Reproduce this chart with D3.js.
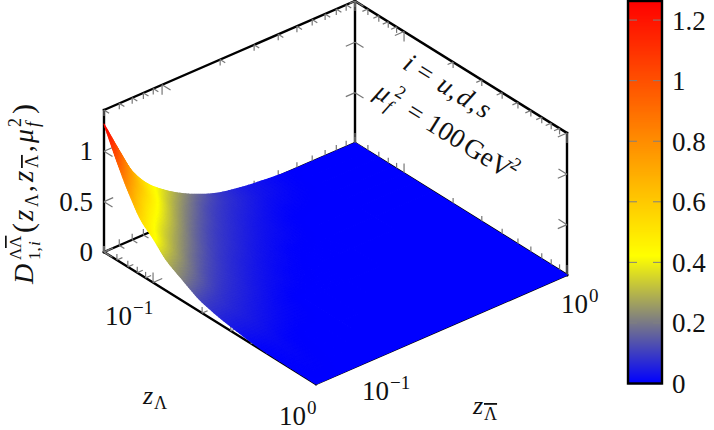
<!DOCTYPE html>
<html><head><meta charset="utf-8">
<script src="https://cdnjs.cloudflare.com/ajax/libs/d3/7.8.5/d3.min.js"></script>
<style>html,body{margin:0;padding:0;background:#fff}svg{display:block}
text{font-family:"Liberation Serif","Times New Roman",serif;fill:#111;white-space:pre}</style></head><body>
<svg id="c" width="714" height="430"></svg>
<script>
const zLambdaGrid=[0.05,0.06,0.07,0.085,0.1,0.12,0.15,0.2,0.3,0.5,1];
const zBarGrid=[0.05,0.06,0.07,0.085,0.1,0.12,0.15,0.2,0.3,0.5,1];
// surface values, rows: zLambda, columns: zLambdaBar
const surfaceValues=[
[1.27,.94,.68,.48,.37,.27,.175,.088,.033,.002,0],
[.98,.72,.55,.385,.28,.195,.12,.072,.027,0,0],
[.76,.55,.43,.30,.215,.147,.093,.055,.017,0,0],
[.54,.40,.31,.215,.151,.103,.07,.036,.006,0,0],
[.44,.32,.24,.163,.114,.082,.053,.025,.001,0,0],
[.31,.24,.175,.117,.085,.062,.036,.014,0,0,0],
[.215,.163,.117,.082,.06,.039,.02,.003,0,0,0],
[.11,.09,.072,.052,.034,.019,.005,0,0,0,0],
[.045,.045,.035,.019,.008,0,0,0,0,0,0],
[.005,.012,.004,0,0,0,0,0,0,0,0],
[0,0,0,0,0,0,0,0,0,0,0]];
const logMajorTicks=[0.1,1];
const logMinorTicks=[0.05,0.06,0.07,0.08,0.09,0.2,0.3,0.4,0.5,0.6,0.7,0.8,0.9];
const zTicks=[0,0.5,1];
const zTickLabels=["0","0.5","1"];
const barTicks=[0,0.2,0.4,0.6,0.8,1,1.2];
const barTickLabels=["0","0.2","0.4","0.6","0.8","1","1.2"];
const colorStops=[0,0.421,1.263];
const colorNames=["#0000ff","#ffff00","#ff0000"];

const svg=d3.select("#c");
const O={x:104,y:252}, UV={x:212,y:132}, VV={x:251,y:-109};
const U=d3.scaleLog().domain([0.05,1]).range([0,1]);
const V=d3.scaleLog().domain([0.05,1]).range([0,1]);
const Z=d3.scaleLinear().domain([0,1.41]).range([0,142]);
const P=(a,b,z)=>{const u=U(a),v=V(b);return [O.x+UV.x*u+VV.x*v,O.y+UV.y*u+VV.y*v-Z(z)];};
const color=d3.scaleLinear().domain(colorStops).range(colorNames).clamp(true);
const zMax=1.41,lo=0.05,hi=1;
const norm=d=>{const l=Math.hypot(d.x,d.y);return [d.x/l,d.y/l];};
const dU=norm(UV),dV=norm(VV),UP=[0,-1],DN=[0,1];
const neg=d=>[-d[0],-d[1]];
const gTicks=svg.append("g").attr("stroke","#777").attr("stroke-width",1.2).attr("fill","none");
function arm(p,d,L){gTicks.append("line").attr("x1",p[0]).attr("y1",p[1]).attr("x2",p[0]+d[0]*L).attr("y2",p[1]+d[1]*L);}
function tickSet(vals,L,fn,dirs){vals.forEach(t=>{const p=fn(t);dirs.forEach(d=>arm(p,d,L));});}
const edgeTicks=[
 [t=>P(t,lo,0),[UP,dV]],
 [t=>P(t,hi,zMax),[DN,neg(dV)]],
 [t=>P(t,hi,0),[UP]],
 [t=>P(lo,t,0),[UP,dU]],
 [t=>P(lo,t,zMax),[DN,dU]]
];
edgeTicks.forEach(([fn,dirs])=>{tickSet(logMajorTicks,10,fn,dirs);tickSet(logMinorTicks,6,fn,dirs);});
const frame=[
 [[lo,lo,0],[lo,lo,zMax]],[[lo,hi,0],[lo,hi,zMax]],[[hi,hi,0],[hi,hi,zMax]],
 [[lo,lo,zMax],[lo,hi,zMax]],[[lo,hi,zMax],[hi,hi,zMax]],
 [[lo,lo,0],[hi,lo,0]],[[hi,lo,0],[hi,hi,0]],[[lo,lo,0],[lo,hi,0]],[[lo,hi,0],[hi,hi,0]]
];
svg.append("g").selectAll("line").data(frame).join("line")
 .attr("x1",d=>P(...d[0])[0]).attr("y1",d=>P(...d[0])[1])
 .attr("x2",d=>P(...d[1])[0]).attr("y2",d=>P(...d[1])[1])
 .attr("stroke","#000").attr("stroke-width",2.4).attr("stroke-linecap","square");
zTicks.forEach(t=>{
  arm(P(lo,lo,t),dU,10);arm(P(lo,lo,t),dV,10);
  if(t>0){arm(P(lo,hi,t),dU,10);arm(P(lo,hi,t),neg(dV),10);
  arm(P(hi,hi,t),neg(dU),10);arm(P(hi,hi,t),neg(dV),10);}
});
svg.node().appendChild(gTicks.node());

// surface: smooth shading between the read values, painted far to near
const lg=Math.log10;
const xsA=zLambdaGrid.map(lg), xsB=zBarGrid.map(lg);
function hermite(xs,ys,x){
 let i=Math.min(xs.length-2,Math.max(0,d3.bisectRight(xs,x)-1));
 const h=xs[i+1]-xs[i],t=(x-xs[i])/h;
 const sl=k=>(ys[k+1]-ys[k])/(xs[k+1]-xs[k]);
 const tan=k=>{if(k<=0)return sl(0);if(k>=xs.length-1)return sl(xs.length-2);
  const a=sl(k-1),b=sl(k);return a*b<=0?0:2*a*b/(a+b);};
 const m0=tan(i),m1=tan(i+1),t2=t*t,t3=t2*t;
 return (2*t3-3*t2+1)*ys[i]+(t3-2*t2+t)*h*m0+(-2*t3+3*t2)*ys[i+1]+(t3-t2)*h*m1;
}
function surf(M,a,b){
 const col=M.map(r=>hermite(xsB,r,b));
 return Math.max(0,hermite(xsA,col,a));
}
const SUB=12,quads=[];
const M=surfaceValues;
for(let i=0;i<zLambdaGrid.length-1;i++){
 for(let j=zBarGrid.length-2;j>=0;j--){
  const flat=!M[i][j]&&!M[i+1][j]&&!M[i][j+1]&&!M[i+1][j+1];
  const n=flat?1:SUB;
  for(let a=0;a<n;a++)for(let b=n-1;b>=0;b--){
   const A=s=>xsA[i]+s*(xsA[i+1]-xsA[i]),B=t=>xsB[j]+t*(xsB[j+1]-xsB[j]);
   const pt=(s,t)=>P(10**A(s),10**B(t),flat?0:surf(M,A(s),B(t)));
   const s0=a/n,s1=(a+1)/n,t0=b/n,t1=(b+1)/n;
   quads.push({pts:[pt(s0,t0),pt(s1,t0),pt(s1,t1),pt(s0,t1)],
     m:flat?0:surf(M,A((s0+s1)/2),B((t0+t1)/2))});
  }
 }
}
const floorCorners=[[0.2,0.5],[1,0.06],[1,1],[0.15,1]];
svg.append("path").attr("fill",color(0))
 .attr("d","M"+floorCorners.map(c=>P(c[0],c[1],0).join(",")).join("L")+"Z");
svg.append("g").selectAll("path").data(quads).join("path")
 .attr("d",d=>"M"+d.pts.map(p=>p[0].toFixed(2)+","+p[1].toFixed(2)).join("L")+"Z")
 .attr("fill",d=>color(d.m)).attr("stroke",d=>color(d.m)).attr("stroke-width",1.1).attr("stroke-linejoin","round");

// colour bar
const barX=628,barW=34;
const barY=d3.scaleLinear().domain([0,1.263]).range([383.5,1]);
const barRows=d3.range(1,384);
svg.append("g").selectAll("rect").data(barRows).join("rect")
 .attr("x",barX).attr("width",barW).attr("y",d=>d).attr("height",1.2)
 .attr("fill",d=>color(barY.invert(d+0.5)));
const gb=svg.append("g");
gb.selectAll("line.a").data(barTicks).join("line").attr("class","a")
 .attr("x1",barX).attr("x2",barX+9).attr("y1",barY).attr("y2",barY).attr("stroke","#808080");
gb.selectAll("line.b").data(barTicks).join("line").attr("class","b")
 .attr("x1",barX+barW-9).attr("x2",barX+barW).attr("y1",barY).attr("y2",barY).attr("stroke","#808080");
gb.append("rect").attr("x",barX).attr("y",barY(1.263)).attr("width",barW).attr("height",barY(0)-barY(1.263))
 .attr("fill","none").attr("stroke","#000").attr("stroke-width",2.4);
gb.selectAll("text").data(barTicks).join("text").attr("x",672).attr("y",d=>barY(d)+9.5)
 .attr("font-size",27).text((d,i)=>barTickLabels[i]);

// text
const FS=27;
svg.append("g").selectAll("text").data(zTicks).join("text")
 .attr("x",93).attr("y",d=>P(lo,lo,d)[1]+9).attr("text-anchor","end").attr("font-size",FS)
 .text((d,i)=>zTickLabels[i]);
function place(parent,x,y,parts){
 const g=parent.append("g").attr("transform",`translate(${x},${y})`);
 parts.forEach(p=>{
  const t=g.append("text").attr("x",p.x).attr("y",p.dy||0).attr("font-size",p.s||FS)
   .attr("font-style",p.i?"italic":"normal").text(p.t);
  if(p.bar)t.style("text-decoration","overline");
 });
 return g;
}
function power(x,y,exp){place(svg,x,y,[{t:"10",x:0},{t:exp,s:19,dy:-11,x:28}]);}
power(105,325,"\u22121");
power(279,425,"0");
power(362,400,"\u22121");
power(561,313,"0");
place(svg,143,404,[{t:"z",x:0,i:1,s:26},{t:"\u039b",x:11,s:18,dy:5}]);
place(svg,473,414,[{t:"z",x:0,i:1,s:26},{t:"\u039b",x:11,s:18,dy:6,bar:1}]);
const yl=svg.append("g").attr("transform","translate(33,284) rotate(-90)");
place(yl,0,0,[{t:"D",x:0,i:1,s:28},
 {t:"\u039b",x:24,s:17,dy:-12},{t:"\u039b",x:36,s:17,dy:-12,bar:1},
 {t:"1,",x:24,s:17,dy:7},{t:"i",x:38,i:1,s:17,dy:7},
 {t:"(",x:51,s:30},{t:"z",x:63,i:1,s:29},{t:"\u039b",x:77,s:18,dy:5},{t:",",x:92,s:27},
 {t:"z",x:102,i:1,s:29},{t:"\u039b",x:116,s:18,dy:5,bar:1},{t:",",x:132,s:27},
 {t:"\u03bc",x:141,i:1,s:28},{t:"2",x:157,s:18,dy:-12},{t:"f",x:157,i:1,s:18,dy:6},{t:")",x:170,s:30}]);
const ang=31.9;
const a1=svg.append("g").attr("transform",`translate(405,70) rotate(${ang})`);
place(a1,0,0,[{t:"i",x:-4,i:1,s:27},{t:"=",x:11,s:27},{t:"u",x:36,i:1,s:27},{t:",",x:50,s:27},
 {t:"d",x:59,i:1,s:27},{t:",",x:74,s:27},{t:"s",x:83,i:1,s:27}]);
const a2=svg.append("g").attr("transform",`translate(379,100) rotate(${ang})`);
place(a2,0,0,[{t:"\u03bc",x:-7,i:1,s:27},{t:"2",x:10,s:18,dy:-12},{t:"f",x:9,i:1,s:18,dy:6},
 {t:"=",x:30,s:27},{t:"100",x:53,s:27},{t:"GeV",x:97,s:27},{t:"2",x:146,s:18,dy:-12}]);
</script></body></html>
